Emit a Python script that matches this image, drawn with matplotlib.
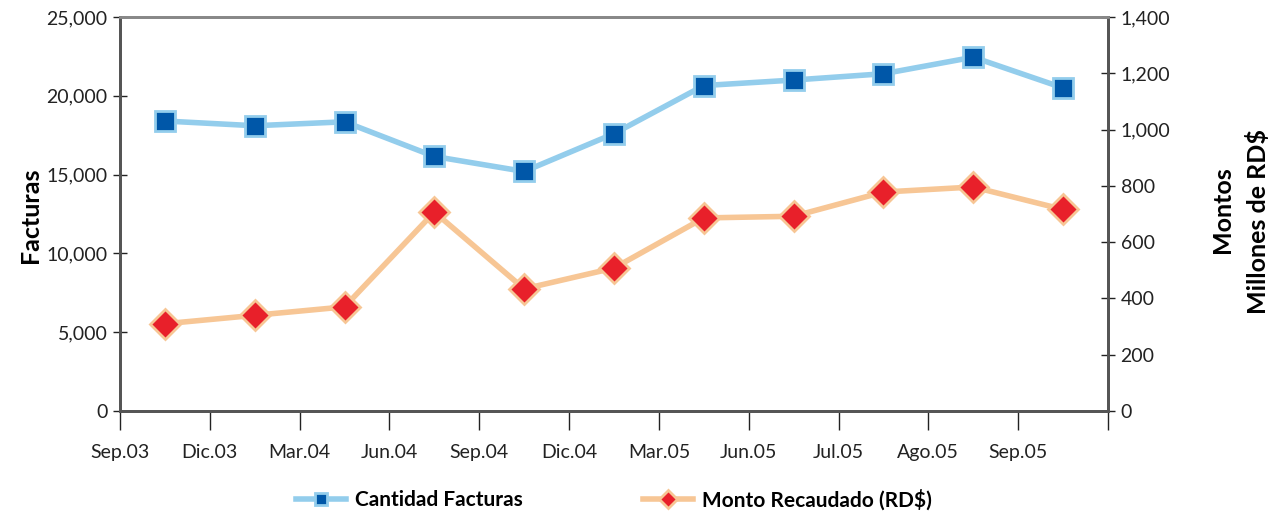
import matplotlib
matplotlib.use("Agg")
import matplotlib.pyplot as plt
import numpy as np

plt.rcParams['font.family'] = ['Lato', 'DejaVu Sans']

months = ["Sep.03", "Dic.03", "Mar.04", "Jun.04", "Sep.04", "Dic.04",
          "Mar.05", "Jun.05", "Jul.05", "Ago.05", "Sep.05"]
facturas = [18400, 18100, 18350, 16150, 15200, 17600, 20650, 21000, 21400, 22450, 20500]
montos = [310, 340, 370, 707, 434, 508, 686, 692, 778, 796, 716]

fig = plt.figure(figsize=(12.77, 5.15), dpi=100)
ax = fig.add_axes([120/1277, 104/515, 988/1277, 394/515])
ax2 = ax.twinx()

x = np.arange(len(months)) + 0.5

l1, = ax.plot(x, facturas, color='#93cdec', lw=4, marker='s', markersize=15,
              markerfacecolor='#0057a8', markeredgecolor='#93cdec', markeredgewidth=2,
              label='Cantidad Facturas', zorder=3)
l2, = ax2.plot(x, montos, color='#f7c695', lw=4, marker='D', markersize=15,
               markerfacecolor='#e8202a', markeredgecolor='#f7c695', markeredgewidth=2,
               label='Monto Recaudado (RD$)', zorder=3)

ax.set_xlim(0, len(months))
ax.set_ylim(0, 25000)
ax2.set_ylim(0, 1400)
ax.set_yticks(np.arange(0, 25001, 5000))
ax.set_yticklabels([f"{v:,}" for v in range(0, 25001, 5000)])
ax2.set_yticks(np.arange(0, 1401, 200))
ax2.set_yticklabels([f"{v:,}" for v in range(0, 1401, 200)])
ax.set_xticks(np.arange(len(months) + 1))
ax.set_xticklabels(months + [""])

for a in (ax, ax2):
    for s in a.spines.values():
        s.set_linewidth(2)
    a.spines['top'].set_color('#888888')
    a.spines['left'].set_color('#555555')
    a.spines['bottom'].set_color('#555555')
    a.spines['right'].set_color('#555555')

ax.tick_params(axis='y', direction='inout', length=10, width=1, labelsize=14, colors='#222222', pad=4)
ax2.tick_params(axis='y', direction='inout', length=10, width=1, labelsize=14, colors='#222222', pad=4)
ax.tick_params(axis='x', direction='out', length=14, width=1, labelsize=14, colors='#222222', pad=10)

fig.text(30/1277, 1 - 215/515, "Facturas", rotation=90, ha='center', va='center',
         fontsize=18, fontweight='bold')
fig.text(1222/1277, 1 - 210/515, "Montos", rotation=90, ha='center', va='center',
         fontsize=18, fontweight='bold')
fig.text(1258/1277, 1 - 222/515, "Millones de RD$", rotation=90, ha='center', va='center',
         fontsize=18, fontweight='bold')

fig.legend(handles=[l1, l2], loc='center', bbox_to_anchor=(614/1277, 0.03), ncol=2,
           frameon=False, prop={'weight': 'bold', 'size': 15},
           markerscale=0.6, handlelength=2.4, handletextpad=0.4, columnspacing=5.8)

fig.savefig("out.png", dpi=100)
